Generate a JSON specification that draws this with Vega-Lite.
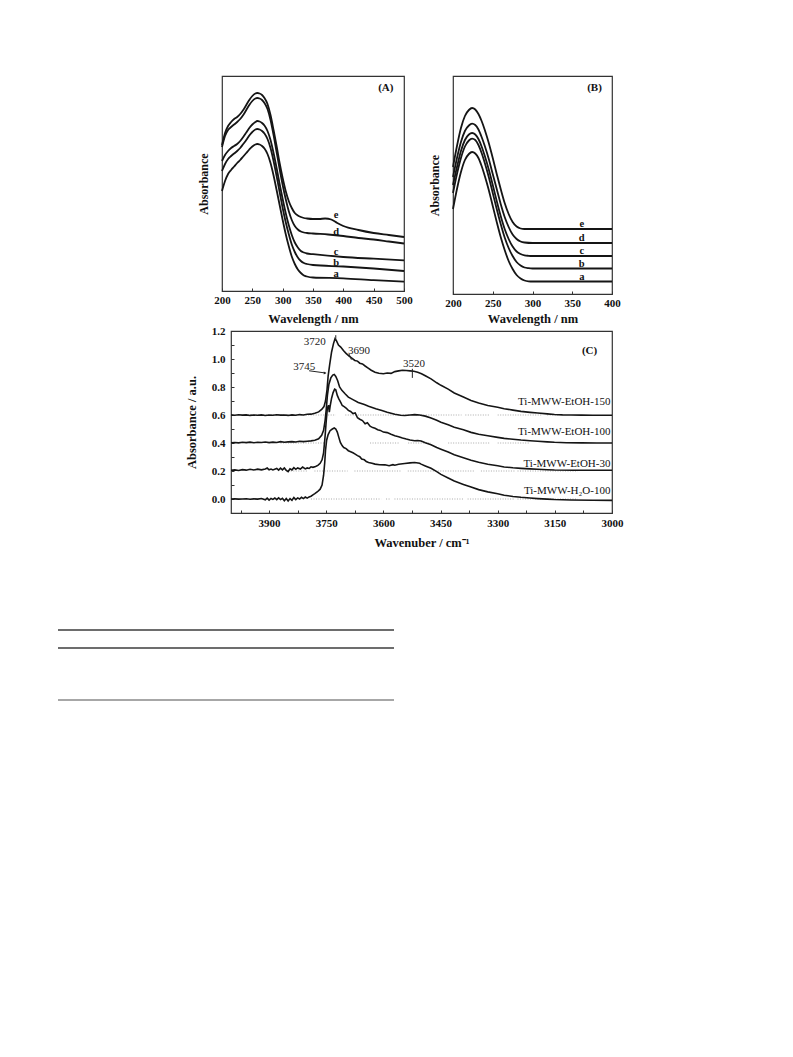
{
"$schema": "https://vega.github.io/schema/vega-lite/v6.json",
"background": "white",
"padding": {"left": 57, "top": 75, "right": 0, "bottom": 0},
"bounds": "full",
"spacing": 79,
"config": {
  "font": "Liberation Serif",
  "view": {"stroke": "#333", "strokeWidth": 1.2},
  "axis": {"labelFont": "Liberation Serif", "titleFont": "Liberation Serif", "labelFontWeight": "bold", "titleFontWeight": "bold", "labelColor": "#111", "titleColor": "#111", "tickColor": "#333", "domain": false, "grid": false, "labelFontSize": 11, "titleFontSize": 12.5, "tickSize": -3, "labelFlush": false, "labelOverlap": false, "tickCount": 100},
  "text": {"font": "Liberation Serif"}
},
"datasets": {
  "A": [
    {"s":"e","x":200,"y":146},{"s":"e","x":205,"y":158},{"s":"e","x":210,"y":165},{"s":"e","x":215,"y":169},{"s":"e","x":220,"y":172},{"s":"e","x":225,"y":174},{"s":"e","x":230,"y":177},{"s":"e","x":235,"y":181},{"s":"e","x":240,"y":186},{"s":"e","x":245,"y":191},{"s":"e","x":250,"y":195},{"s":"e","x":255,"y":197.5},{"s":"e","x":258,"y":198},{"s":"e","x":262,"y":197.5},{"s":"e","x":266,"y":196},{"s":"e","x":270,"y":193},{"s":"e","x":275,"y":187},{"s":"e","x":280,"y":176},{"s":"e","x":285,"y":161},{"s":"e","x":290,"y":145},{"s":"e","x":295,"y":128},{"s":"e","x":300,"y":113},{"s":"e","x":305,"y":100},{"s":"e","x":310,"y":90},{"s":"e","x":315,"y":83},{"s":"e","x":320,"y":78},{"s":"e","x":325,"y":75.5},{"s":"e","x":330,"y":74},{"s":"e","x":335,"y":73},{"s":"e","x":340,"y":72.5},{"s":"e","x":350,"y":72},{"s":"e","x":360,"y":72},{"s":"e","x":370,"y":72.5},{"s":"e","x":380,"y":71.5},{"s":"e","x":390,"y":68},{"s":"e","x":400,"y":65},{"s":"e","x":425,"y":61},{"s":"e","x":450,"y":58},{"s":"e","x":475,"y":56},{"s":"e","x":500,"y":54},
    {"s":"d","x":200,"y":144},{"s":"d","x":205,"y":155},{"s":"d","x":210,"y":161},{"s":"d","x":215,"y":164},{"s":"d","x":220,"y":166.5},{"s":"d","x":225,"y":169},{"s":"d","x":230,"y":172},{"s":"d","x":235,"y":176},{"s":"d","x":240,"y":181},{"s":"d","x":245,"y":186},{"s":"d","x":250,"y":190},{"s":"d","x":255,"y":192.5},{"s":"d","x":258,"y":193},{"s":"d","x":262,"y":192.5},{"s":"d","x":266,"y":191},{"s":"d","x":270,"y":188},{"s":"d","x":275,"y":182},{"s":"d","x":280,"y":171},{"s":"d","x":285,"y":156},{"s":"d","x":290,"y":139},{"s":"d","x":295,"y":122},{"s":"d","x":300,"y":106},{"s":"d","x":305,"y":92},{"s":"d","x":310,"y":80},{"s":"d","x":315,"y":71},{"s":"d","x":320,"y":65},{"s":"d","x":325,"y":61.5},{"s":"d","x":330,"y":59.5},{"s":"d","x":335,"y":58.5},{"s":"d","x":340,"y":58},{"s":"d","x":350,"y":57.5},{"s":"d","x":375,"y":56.5},{"s":"d","x":400,"y":55},{"s":"d","x":425,"y":53},{"s":"d","x":450,"y":51.5},{"s":"d","x":475,"y":49.5},{"s":"d","x":500,"y":47.5},
    {"s":"c","x":200,"y":130},{"s":"c","x":205,"y":136},{"s":"c","x":210,"y":140},{"s":"c","x":215,"y":143},{"s":"c","x":220,"y":145},{"s":"c","x":225,"y":147},{"s":"c","x":230,"y":150},{"s":"c","x":235,"y":154},{"s":"c","x":240,"y":158.5},{"s":"c","x":245,"y":163},{"s":"c","x":250,"y":166.5},{"s":"c","x":255,"y":169},{"s":"c","x":258,"y":170},{"s":"c","x":262,"y":169.5},{"s":"c","x":266,"y":168},{"s":"c","x":270,"y":165.5},{"s":"c","x":275,"y":160},{"s":"c","x":280,"y":151},{"s":"c","x":285,"y":138},{"s":"c","x":290,"y":123},{"s":"c","x":295,"y":107},{"s":"c","x":300,"y":92},{"s":"c","x":305,"y":78},{"s":"c","x":310,"y":66},{"s":"c","x":315,"y":56},{"s":"c","x":320,"y":48.5},{"s":"c","x":325,"y":43.5},{"s":"c","x":330,"y":40},{"s":"c","x":335,"y":38.5},{"s":"c","x":340,"y":37.5},{"s":"c","x":350,"y":36.8},{"s":"c","x":400,"y":34},{"s":"c","x":450,"y":32.3},{"s":"c","x":500,"y":30.7},
    {"s":"b","x":200,"y":120},{"s":"b","x":205,"y":127},{"s":"b","x":210,"y":132},{"s":"b","x":215,"y":135},{"s":"b","x":220,"y":137.5},{"s":"b","x":225,"y":140},{"s":"b","x":230,"y":143},{"s":"b","x":235,"y":147},{"s":"b","x":240,"y":151},{"s":"b","x":245,"y":155.5},{"s":"b","x":250,"y":159},{"s":"b","x":255,"y":161.5},{"s":"b","x":258,"y":162},{"s":"b","x":262,"y":161.5},{"s":"b","x":266,"y":160},{"s":"b","x":270,"y":157.5},{"s":"b","x":275,"y":152},{"s":"b","x":280,"y":143},{"s":"b","x":285,"y":130},{"s":"b","x":290,"y":115},{"s":"b","x":295,"y":99},{"s":"b","x":300,"y":83},{"s":"b","x":305,"y":69},{"s":"b","x":310,"y":57},{"s":"b","x":315,"y":46.5},{"s":"b","x":320,"y":39},{"s":"b","x":325,"y":33.5},{"s":"b","x":330,"y":30},{"s":"b","x":335,"y":28},{"s":"b","x":340,"y":27},{"s":"b","x":350,"y":26},{"s":"b","x":400,"y":24.5},{"s":"b","x":450,"y":22.5},{"s":"b","x":500,"y":20},
    {"s":"a","x":200,"y":100},{"s":"a","x":205,"y":110},{"s":"a","x":210,"y":117},{"s":"a","x":215,"y":121},{"s":"a","x":220,"y":124.5},{"s":"a","x":225,"y":128},{"s":"a","x":230,"y":131},{"s":"a","x":235,"y":134.5},{"s":"a","x":240,"y":138},{"s":"a","x":245,"y":141.5},{"s":"a","x":250,"y":144.5},{"s":"a","x":255,"y":146.5},{"s":"a","x":258,"y":147},{"s":"a","x":262,"y":146.5},{"s":"a","x":266,"y":145},{"s":"a","x":270,"y":142.5},{"s":"a","x":275,"y":137},{"s":"a","x":280,"y":128},{"s":"a","x":285,"y":115.5},{"s":"a","x":290,"y":101},{"s":"a","x":295,"y":86},{"s":"a","x":300,"y":71},{"s":"a","x":305,"y":57},{"s":"a","x":310,"y":45},{"s":"a","x":315,"y":34.5},{"s":"a","x":320,"y":27},{"s":"a","x":325,"y":21.5},{"s":"a","x":330,"y":18},{"s":"a","x":335,"y":15.5},{"s":"a","x":340,"y":14.5},{"s":"a","x":350,"y":13.5},{"s":"a","x":400,"y":12.7},{"s":"a","x":450,"y":10.8},{"s":"a","x":500,"y":9.3}
  ],
  "Alab": [
    {"t":"e","x":388,"y":76},{"t":"d","x":388,"y":59.5},{"t":"c","x":388,"y":39.5},{"t":"b","x":388,"y":28},{"t":"a","x":388,"y":17}
  ],
  "B": [
    {"s":"e","x":200,"y":127},{"s":"e","x":205,"y":148},{"s":"e","x":210,"y":166},{"s":"e","x":215,"y":178},{"s":"e","x":220,"y":184},{"s":"e","x":224,"y":186},{"s":"e","x":228,"y":184.5},{"s":"e","x":232,"y":180},{"s":"e","x":236,"y":173},{"s":"e","x":240,"y":164},{"s":"e","x":245,"y":151},{"s":"e","x":250,"y":136},{"s":"e","x":255,"y":120},{"s":"e","x":260,"y":105},{"s":"e","x":265,"y":91},{"s":"e","x":270,"y":80},{"s":"e","x":275,"y":72},{"s":"e","x":280,"y":67.5},{"s":"e","x":285,"y":65.5},{"s":"e","x":290,"y":65},{"s":"e","x":300,"y":65},{"s":"e","x":350,"y":65},{"s":"e","x":400,"y":65},
    {"s":"d","x":200,"y":117},{"s":"d","x":205,"y":136},{"s":"d","x":210,"y":152},{"s":"d","x":215,"y":163},{"s":"d","x":220,"y":168.5},{"s":"d","x":224,"y":170.3},{"s":"d","x":228,"y":169},{"s":"d","x":232,"y":164.5},{"s":"d","x":236,"y":157},{"s":"d","x":240,"y":148},{"s":"d","x":245,"y":135},{"s":"d","x":250,"y":120},{"s":"d","x":255,"y":105},{"s":"d","x":260,"y":90},{"s":"d","x":265,"y":77},{"s":"d","x":270,"y":67},{"s":"d","x":275,"y":59.5},{"s":"d","x":280,"y":55},{"s":"d","x":285,"y":52.5},{"s":"d","x":290,"y":51.5},{"s":"d","x":300,"y":51},{"s":"d","x":350,"y":51},{"s":"d","x":400,"y":51},
    {"s":"c","x":200,"y":109},{"s":"c","x":205,"y":127},{"s":"c","x":210,"y":143},{"s":"c","x":215,"y":154},{"s":"c","x":220,"y":159.5},{"s":"c","x":224,"y":161},{"s":"c","x":228,"y":159.5},{"s":"c","x":232,"y":155},{"s":"c","x":236,"y":147.5},{"s":"c","x":240,"y":138},{"s":"c","x":245,"y":124.5},{"s":"c","x":250,"y":109},{"s":"c","x":255,"y":93},{"s":"c","x":260,"y":78},{"s":"c","x":265,"y":65},{"s":"c","x":270,"y":55},{"s":"c","x":275,"y":47.5},{"s":"c","x":280,"y":42.5},{"s":"c","x":285,"y":40},{"s":"c","x":290,"y":38.7},{"s":"c","x":295,"y":38.2},{"s":"c","x":300,"y":38},{"s":"c","x":350,"y":38},{"s":"c","x":400,"y":38},
    {"s":"b","x":200,"y":101},{"s":"b","x":205,"y":120},{"s":"b","x":210,"y":136},{"s":"b","x":215,"y":147.5},{"s":"b","x":220,"y":153.5},{"s":"b","x":224,"y":155.3},{"s":"b","x":228,"y":154},{"s":"b","x":232,"y":149},{"s":"b","x":236,"y":141},{"s":"b","x":240,"y":131},{"s":"b","x":245,"y":117},{"s":"b","x":250,"y":101},{"s":"b","x":255,"y":85},{"s":"b","x":260,"y":70},{"s":"b","x":265,"y":56.5},{"s":"b","x":270,"y":46},{"s":"b","x":275,"y":38},{"s":"b","x":280,"y":32},{"s":"b","x":285,"y":28.5},{"s":"b","x":290,"y":26.5},{"s":"b","x":295,"y":25.8},{"s":"b","x":300,"y":25.5},{"s":"b","x":350,"y":25.5},{"s":"b","x":400,"y":25.5},
    {"s":"a","x":200,"y":85},{"s":"a","x":205,"y":105},{"s":"a","x":210,"y":122},{"s":"a","x":215,"y":134},{"s":"a","x":220,"y":140},{"s":"a","x":224,"y":142},{"s":"a","x":228,"y":140.5},{"s":"a","x":232,"y":136},{"s":"a","x":236,"y":128},{"s":"a","x":240,"y":118},{"s":"a","x":245,"y":104},{"s":"a","x":250,"y":88},{"s":"a","x":255,"y":72},{"s":"a","x":260,"y":57},{"s":"a","x":265,"y":44},{"s":"a","x":270,"y":33},{"s":"a","x":275,"y":25},{"s":"a","x":280,"y":19},{"s":"a","x":285,"y":15.5},{"s":"a","x":290,"y":13.5},{"s":"a","x":295,"y":12.7},{"s":"a","x":300,"y":12.5},{"s":"a","x":350,"y":12.5},{"s":"a","x":400,"y":12.5}
  ],
  "Blab": [
    {"t":"e","x":362,"y":70},{"t":"d","x":362,"y":56},{"t":"c","x":362,"y":43},{"t":"b","x":362,"y":30.5},{"t":"a","x":362,"y":17.5}
  ],
  "C": [
    {"s":"150","x":4000,"y":0.601},{"s":"150","x":3990,"y":0.598},{"s":"150","x":3980,"y":0.602},{"s":"150","x":3970,"y":0.599},{"s":"150","x":3960,"y":0.601},{"s":"150","x":3950,"y":0.597},{"s":"150","x":3940,"y":0.6},{"s":"150","x":3930,"y":0.598},{"s":"150","x":3920,"y":0.601},{"s":"150","x":3910,"y":0.596},{"s":"150","x":3900,"y":0.6},{"s":"150","x":3890,"y":0.598},{"s":"150","x":3880,"y":0.602},{"s":"150","x":3870,"y":0.599},{"s":"150","x":3860,"y":0.6},{"s":"150","x":3850,"y":0.597},{"s":"150","x":3840,"y":0.601},{"s":"150","x":3830,"y":0.598},{"s":"150","x":3820,"y":0.603},{"s":"150","x":3810,"y":0.6},{"s":"150","x":3800,"y":0.605},{"s":"150","x":3790,"y":0.606},{"s":"150","x":3780,"y":0.612},{"s":"150","x":3770,"y":0.622},{"s":"150","x":3762,"y":0.64},{"s":"150","x":3756,"y":0.66},{"s":"150","x":3752,"y":0.7},{"s":"150","x":3748,"y":0.78},{"s":"150","x":3745,"y":0.88},{"s":"150","x":3741,"y":0.96},{"s":"150","x":3736,"y":1.05},{"s":"150","x":3731,"y":1.11},{"s":"150","x":3727,"y":1.145},{"s":"150","x":3723,"y":1.13},{"s":"150","x":3718,"y":1.1},{"s":"150","x":3712,"y":1.085},{"s":"150","x":3705,"y":1.06},{"s":"150","x":3698,"y":1.04},{"s":"150","x":3690,"y":1.02},{"s":"150","x":3682,"y":1.005},{"s":"150","x":3675,"y":0.99},{"s":"150","x":3668,"y":0.985},{"s":"150","x":3662,"y":0.97},{"s":"150","x":3655,"y":0.965},{"s":"150","x":3648,"y":0.95},{"s":"150","x":3640,"y":0.935},{"s":"150","x":3632,"y":0.92},{"s":"150","x":3622,"y":0.905},{"s":"150","x":3612,"y":0.898},{"s":"150","x":3600,"y":0.895},{"s":"150","x":3590,"y":0.9},{"s":"150","x":3580,"y":0.897},{"s":"150","x":3570,"y":0.91},{"s":"150","x":3560,"y":0.915},{"s":"150","x":3550,"y":0.92},{"s":"150","x":3540,"y":0.918},{"s":"150","x":3530,"y":0.915},{"s":"150","x":3520,"y":0.912},{"s":"150","x":3510,"y":0.905},{"s":"150","x":3500,"y":0.895},{"s":"150","x":3490,"y":0.88},{"s":"150","x":3475,"y":0.858},{"s":"150","x":3460,"y":0.83},{"s":"150","x":3449,"y":0.812},{"s":"150","x":3430,"y":0.785},{"s":"150","x":3414,"y":0.757},{"s":"150","x":3390,"y":0.728},{"s":"150","x":3370,"y":0.704},{"s":"150","x":3350,"y":0.685},{"s":"150","x":3326,"y":0.668},{"s":"150","x":3300,"y":0.655},{"s":"150","x":3283,"y":0.645},{"s":"150","x":3260,"y":0.635},{"s":"150","x":3239,"y":0.626},{"s":"150","x":3215,"y":0.619},{"s":"150","x":3195,"y":0.614},{"s":"150","x":3170,"y":0.608},{"s":"150","x":3151,"y":0.604},{"s":"150","x":3130,"y":0.601},{"s":"150","x":3108,"y":0.6},{"s":"150","x":3080,"y":0.599},{"s":"150","x":3050,"y":0.598},{"s":"150","x":3000,"y":0.598},
    {"s":"100","x":4000,"y":0.402},{"s":"100","x":3990,"y":0.404},{"s":"100","x":3980,"y":0.401},{"s":"100","x":3970,"y":0.405},{"s":"100","x":3960,"y":0.403},{"s":"100","x":3950,"y":0.406},{"s":"100","x":3940,"y":0.402},{"s":"100","x":3930,"y":0.405},{"s":"100","x":3920,"y":0.404},{"s":"100","x":3910,"y":0.407},{"s":"100","x":3900,"y":0.403},{"s":"100","x":3890,"y":0.406},{"s":"100","x":3880,"y":0.404},{"s":"100","x":3870,"y":0.41},{"s":"100","x":3860,"y":0.405},{"s":"100","x":3850,"y":0.408},{"s":"100","x":3840,"y":0.41},{"s":"100","x":3830,"y":0.407},{"s":"100","x":3820,"y":0.412},{"s":"100","x":3810,"y":0.41},{"s":"100","x":3800,"y":0.413},{"s":"100","x":3790,"y":0.415},{"s":"100","x":3780,"y":0.42},{"s":"100","x":3770,"y":0.43},{"s":"100","x":3762,"y":0.455},{"s":"100","x":3757,"y":0.49},{"s":"100","x":3753,"y":0.56},{"s":"100","x":3750,"y":0.64},{"s":"100","x":3747,"y":0.74},{"s":"100","x":3743,"y":0.82},{"s":"100","x":3738,"y":0.865},{"s":"100","x":3733,"y":0.885},{"s":"100","x":3729,"y":0.89},{"s":"100","x":3725,"y":0.875},{"s":"100","x":3720,"y":0.845},{"s":"100","x":3715,"y":0.8},{"s":"100","x":3709,"y":0.776},{"s":"100","x":3700,"y":0.75},{"s":"100","x":3692,"y":0.728},{"s":"100","x":3680,"y":0.71},{"s":"100","x":3666,"y":0.69},{"s":"100","x":3650,"y":0.675},{"s":"100","x":3639,"y":0.663},{"s":"100","x":3620,"y":0.645},{"s":"100","x":3604,"y":0.632},{"s":"100","x":3590,"y":0.62},{"s":"100","x":3570,"y":0.605},{"s":"100","x":3555,"y":0.598},{"s":"100","x":3544,"y":0.596},{"s":"100","x":3530,"y":0.6},{"s":"100","x":3518,"y":0.603},{"s":"100","x":3505,"y":0.6},{"s":"100","x":3490,"y":0.592},{"s":"100","x":3475,"y":0.579},{"s":"100","x":3460,"y":0.562},{"s":"100","x":3449,"y":0.548},{"s":"100","x":3430,"y":0.53},{"s":"100","x":3414,"y":0.513},{"s":"100","x":3390,"y":0.494},{"s":"100","x":3370,"y":0.476},{"s":"100","x":3350,"y":0.462},{"s":"100","x":3326,"y":0.452},{"s":"100","x":3300,"y":0.44},{"s":"100","x":3283,"y":0.433},{"s":"100","x":3260,"y":0.427},{"s":"100","x":3239,"y":0.421},{"s":"100","x":3215,"y":0.416},{"s":"100","x":3195,"y":0.412},{"s":"100","x":3170,"y":0.408},{"s":"100","x":3151,"y":0.405},{"s":"100","x":3120,"y":0.402},{"s":"100","x":3080,"y":0.401},{"s":"100","x":3040,"y":0.4},{"s":"100","x":3000,"y":0.4},
    {"s":"30","x":4000,"y":0.205},{"s":"30","x":3990,"y":0.208},{"s":"30","x":3980,"y":0.204},{"s":"30","x":3970,"y":0.21},{"s":"30","x":3960,"y":0.206},{"s":"30","x":3950,"y":0.212},{"s":"30","x":3940,"y":0.207},{"s":"30","x":3930,"y":0.213},{"s":"30","x":3920,"y":0.208},{"s":"30","x":3910,"y":0.215},{"s":"30","x":3905,"y":0.221},{"s":"30","x":3900,"y":0.209},{"s":"30","x":3895,"y":0.214},{"s":"30","x":3890,"y":0.208},{"s":"30","x":3880,"y":0.218},{"s":"30","x":3875,"y":0.206},{"s":"30","x":3870,"y":0.22},{"s":"30","x":3865,"y":0.208},{"s":"30","x":3860,"y":0.222},{"s":"30","x":3855,"y":0.205},{"s":"30","x":3850,"y":0.196},{"s":"30","x":3845,"y":0.215},{"s":"30","x":3840,"y":0.208},{"s":"30","x":3835,"y":0.224},{"s":"30","x":3830,"y":0.212},{"s":"30","x":3825,"y":0.222},{"s":"30","x":3818,"y":0.214},{"s":"30","x":3812,"y":0.228},{"s":"30","x":3805,"y":0.215},{"s":"30","x":3800,"y":0.222},{"s":"30","x":3795,"y":0.218},{"s":"30","x":3790,"y":0.23},{"s":"30","x":3785,"y":0.226},{"s":"30","x":3778,"y":0.232},{"s":"30","x":3772,"y":0.24},{"s":"30","x":3766,"y":0.255},{"s":"30","x":3761,"y":0.28},{"s":"30","x":3757,"y":0.33},{"s":"30","x":3753,"y":0.45},{"s":"30","x":3750,"y":0.56},{"s":"30","x":3747,"y":0.65},{"s":"30","x":3744,"y":0.67},{"s":"30","x":3742,"y":0.62},{"s":"30","x":3740,"y":0.66},{"s":"30","x":3736,"y":0.72},{"s":"30","x":3732,"y":0.76},{"s":"30","x":3728,"y":0.785},{"s":"30","x":3725,"y":0.78},{"s":"30","x":3721,"y":0.74},{"s":"30","x":3717,"y":0.715},{"s":"30","x":3712,"y":0.69},{"s":"30","x":3708,"y":0.668},{"s":"30","x":3703,"y":0.66},{"s":"30","x":3698,"y":0.65},{"s":"30","x":3692,"y":0.633},{"s":"30","x":3686,"y":0.625},{"s":"30","x":3680,"y":0.61},{"s":"30","x":3674,"y":0.615},{"s":"30","x":3668,"y":0.58},{"s":"30","x":3662,"y":0.57},{"s":"30","x":3655,"y":0.56},{"s":"30","x":3648,"y":0.538},{"s":"30","x":3642,"y":0.545},{"s":"30","x":3635,"y":0.52},{"s":"30","x":3628,"y":0.51},{"s":"30","x":3622,"y":0.505},{"s":"30","x":3615,"y":0.495},{"s":"30","x":3608,"y":0.49},{"s":"30","x":3600,"y":0.478},{"s":"30","x":3590,"y":0.474},{"s":"30","x":3580,"y":0.462},{"s":"30","x":3570,"y":0.452},{"s":"30","x":3560,"y":0.445},{"s":"30","x":3550,"y":0.436},{"s":"30","x":3540,"y":0.428},{"s":"30","x":3530,"y":0.422},{"s":"30","x":3518,"y":0.416},{"s":"30","x":3510,"y":0.418},{"s":"30","x":3501,"y":0.414},{"s":"30","x":3490,"y":0.402},{"s":"30","x":3475,"y":0.388},{"s":"30","x":3460,"y":0.368},{"s":"30","x":3449,"y":0.356},{"s":"30","x":3430,"y":0.335},{"s":"30","x":3414,"y":0.316},{"s":"30","x":3390,"y":0.295},{"s":"30","x":3370,"y":0.277},{"s":"30","x":3350,"y":0.262},{"s":"30","x":3326,"y":0.248},{"s":"30","x":3300,"y":0.237},{"s":"30","x":3283,"y":0.229},{"s":"30","x":3260,"y":0.223},{"s":"30","x":3239,"y":0.219},{"s":"30","x":3215,"y":0.215},{"s":"30","x":3195,"y":0.212},{"s":"30","x":3170,"y":0.209},{"s":"30","x":3151,"y":0.207},{"s":"30","x":3100,"y":0.205},{"s":"30","x":3050,"y":0.205},{"s":"30","x":3000,"y":0.205},
    {"s":"h2o","x":4000,"y":0.0},{"s":"h2o","x":3990,"y":0.001},{"s":"h2o","x":3980,"y":-0.001},{"s":"h2o","x":3970,"y":0.0},{"s":"h2o","x":3960,"y":0.002},{"s":"h2o","x":3950,"y":-0.002},{"s":"h2o","x":3940,"y":0.001},{"s":"h2o","x":3930,"y":-0.001},{"s":"h2o","x":3920,"y":0.003},{"s":"h2o","x":3910,"y":-0.006},{"s":"h2o","x":3905,"y":0.006},{"s":"h2o","x":3900,"y":-0.008},{"s":"h2o","x":3895,"y":0.004},{"s":"h2o","x":3890,"y":-0.003},{"s":"h2o","x":3885,"y":0.007},{"s":"h2o","x":3880,"y":-0.005},{"s":"h2o","x":3875,"y":0.008},{"s":"h2o","x":3870,"y":-0.004},{"s":"h2o","x":3865,"y":0.005},{"s":"h2o","x":3860,"y":-0.012},{"s":"h2o","x":3855,"y":0.004},{"s":"h2o","x":3850,"y":-0.014},{"s":"h2o","x":3845,"y":0.003},{"s":"h2o","x":3840,"y":-0.009},{"s":"h2o","x":3835,"y":0.01},{"s":"h2o","x":3830,"y":-0.004},{"s":"h2o","x":3825,"y":0.008},{"s":"h2o","x":3820,"y":0.0},{"s":"h2o","x":3815,"y":0.012},{"s":"h2o","x":3810,"y":0.003},{"s":"h2o","x":3805,"y":0.014},{"s":"h2o","x":3800,"y":0.006},{"s":"h2o","x":3795,"y":0.015},{"s":"h2o","x":3790,"y":0.02},{"s":"h2o","x":3785,"y":0.03},{"s":"h2o","x":3780,"y":0.038},{"s":"h2o","x":3773,"y":0.052},{"s":"h2o","x":3766,"y":0.07},{"s":"h2o","x":3761,"y":0.1},{"s":"h2o","x":3757,"y":0.17},{"s":"h2o","x":3754,"y":0.26},{"s":"h2o","x":3752,"y":0.345},{"s":"h2o","x":3749,"y":0.42},{"s":"h2o","x":3745,"y":0.46},{"s":"h2o","x":3740,"y":0.488},{"s":"h2o","x":3734,"y":0.5},{"s":"h2o","x":3729,"y":0.507},{"s":"h2o","x":3725,"y":0.5},{"s":"h2o","x":3721,"y":0.478},{"s":"h2o","x":3717,"y":0.44},{"s":"h2o","x":3713,"y":0.404},{"s":"h2o","x":3708,"y":0.38},{"s":"h2o","x":3704,"y":0.368},{"s":"h2o","x":3698,"y":0.36},{"s":"h2o","x":3692,"y":0.345},{"s":"h2o","x":3686,"y":0.338},{"s":"h2o","x":3680,"y":0.33},{"s":"h2o","x":3674,"y":0.321},{"s":"h2o","x":3668,"y":0.31},{"s":"h2o","x":3662,"y":0.302},{"s":"h2o","x":3657,"y":0.285},{"s":"h2o","x":3650,"y":0.28},{"s":"h2o","x":3645,"y":0.268},{"s":"h2o","x":3639,"y":0.261},{"s":"h2o","x":3630,"y":0.255},{"s":"h2o","x":3622,"y":0.249},{"s":"h2o","x":3610,"y":0.245},{"s":"h2o","x":3596,"y":0.244},{"s":"h2o","x":3585,"y":0.238},{"s":"h2o","x":3575,"y":0.245},{"s":"h2o","x":3570,"y":0.241},{"s":"h2o","x":3560,"y":0.248},{"s":"h2o","x":3544,"y":0.253},{"s":"h2o","x":3530,"y":0.258},{"s":"h2o","x":3518,"y":0.261},{"s":"h2o","x":3505,"y":0.255},{"s":"h2o","x":3501,"y":0.249},{"s":"h2o","x":3490,"y":0.236},{"s":"h2o","x":3475,"y":0.219},{"s":"h2o","x":3460,"y":0.196},{"s":"h2o","x":3449,"y":0.176},{"s":"h2o","x":3430,"y":0.15},{"s":"h2o","x":3414,"y":0.128},{"s":"h2o","x":3390,"y":0.104},{"s":"h2o","x":3370,"y":0.085},{"s":"h2o","x":3350,"y":0.067},{"s":"h2o","x":3326,"y":0.051},{"s":"h2o","x":3300,"y":0.037},{"s":"h2o","x":3283,"y":0.027},{"s":"h2o","x":3260,"y":0.018},{"s":"h2o","x":3239,"y":0.012},{"s":"h2o","x":3215,"y":0.007},{"s":"h2o","x":3195,"y":0.003},{"s":"h2o","x":3170,"y":-0.001},{"s":"h2o","x":3151,"y":-0.004},{"s":"h2o","x":3108,"y":-0.007},{"s":"h2o","x":3050,"y":-0.009},{"s":"h2o","x":3000,"y":-0.01}
  ],
  "Cdots": [
    {"y":0.6,"x":3955,"x2":3725},{"y":0.6,"x":3700,"x2":3530},{"y":0.6,"x":3515,"x2":3395},{"y":0.6,"x":3385,"x2":3320},{"y":0.6,"x":3300,"x2":3185},{"y":0.6,"x":3170,"x2":3140},
    {"y":0.4,"x":3870,"x2":3755},{"y":0.4,"x":3635,"x2":3560},{"y":0.4,"x":3535,"x2":3475},{"y":0.4,"x":3430,"x2":3320},{"y":0.4,"x":3300,"x2":3215},
    {"y":0.2,"x":3843,"x2":3799},{"y":0.2,"x":3781,"x2":3694},{"y":0.2,"x":3676,"x2":3554},{"y":0.2,"x":3536,"x2":3361},{"y":0.2,"x":3344,"x2":3256},{"y":0.2,"x":3248,"x2":3090},
    {"y":0.0,"x":3790,"x2":3606},{"y":0.0,"x":3593,"x2":3580},{"y":0.0,"x":3571,"x2":3388},{"y":0.0,"x":3379,"x2":3256},{"y":0.0,"x":3248,"x2":3090}
  ],
  "Cann": [
    {"t":"3720","x":3780,"y":1.121},{"t":"3690","x":3664,"y":1.055},{"t":"3745","x":3808,"y":0.94},{"t":"3520","x":3520,"y":0.966}
  ],
  "Clines": [
    {"x":3725,"y":1.13,"x2":3725,"y2":1.17},{"x":3690,"y":1.035,"x2":3684,"y2":0.995},{"x":3795,"y":0.916,"x2":3752,"y2":0.9},{"x":3524,"y":0.93,"x2":3524,"y2":0.865}
  ],
  "Csamp": [
    {"t":"Ti-MWW-EtOH-150","x":3004,"y":0.693},{"t":"Ti-MWW-EtOH-100","x":3004,"y":0.479},{"t":"Ti-MWW-EtOH-30","x":3004,"y":0.25},{"t":"Ti-MWW-H₂O-100","x":3004,"y":0.055}
  ],
  "T": [
    {"rule":"top","pos":70},{"rule":"header","pos":52},{"rule":"bottom","pos":0}
  ]
},
"vconcat": [
  {
    "bounds": "full",
    "spacing": -2,
    "vconcat": [
      {
        "bounds": "flush",
        "spacing": 49,
        "hconcat": [
          {"width": 115, "height": 10, "view": {"stroke": null}, "data": {"values": []}, "mark": "point"},
          {
            "width": 182, "height": 215,
            "layer": [
              {
                "data": {"name": "A"},
                "mark": {"type": "line", "color": "#151515", "strokeWidth": 1.8, "interpolate": "monotone"},
                "encoding": {
                  "x": {"field": "x", "type": "quantitative", "scale": {"domain": [200, 500], "nice": false}, "axis": {"values": [200, 250, 300, 350, 400, 450, 500], "tickCount": 100, "title": "Wavelength / nm", "labelPadding": 6, "titlePadding": 7, "labelOverlap": false}},
                  "y": {"field": "y", "type": "quantitative", "scale": {"domain": [0, 215], "nice": false}, "axis": {"labels": false, "ticks": false, "title": "Absorbance", "titleFontSize": 12, "titlePadding": 12}},
                  "detail": {"field": "s"}
                }
              },
              {
                "data": {"name": "Alab"},
                "mark": {"type": "text", "fontWeight": "bold", "fontSize": 10.5, "color": "#111", "baseline": "middle"},
                "encoding": {"x": {"field": "x", "type": "quantitative"}, "y": {"field": "y", "type": "quantitative"}, "text": {"field": "t"}}
              },
              {
                "data": {"values": [{"t": "(A)", "x": 470, "y": 203}]},
                "mark": {"type": "text", "fontWeight": "bold", "fontSize": 11, "color": "#111", "baseline": "middle"},
                "encoding": {"x": {"field": "x", "type": "quantitative"}, "y": {"field": "y", "type": "quantitative"}, "text": {"field": "t"}}
              }
            ]
          },
          {
            "width": 159, "height": 218,
            "layer": [
              {
                "data": {"name": "B"},
                "mark": {"type": "line", "color": "#151515", "strokeWidth": 1.8, "interpolate": "monotone"},
                "encoding": {
                  "x": {"field": "x", "type": "quantitative", "scale": {"domain": [200, 400], "nice": false}, "axis": {"values": [200, 250, 300, 350, 400], "tickCount": 100, "title": "Wavelength / nm", "labelPadding": 6, "titlePadding": 4, "labelOverlap": false}},
                  "y": {"field": "y", "type": "quantitative", "scale": {"domain": [0, 218], "nice": false}, "axis": {"labels": false, "ticks": false, "title": "Absorbance", "titleFontSize": 12, "titlePadding": 12}},
                  "detail": {"field": "s"}
                }
              },
              {
                "data": {"name": "Blab"},
                "mark": {"type": "text", "fontWeight": "bold", "fontSize": 10.5, "color": "#111", "baseline": "middle"},
                "encoding": {"x": {"field": "x", "type": "quantitative"}, "y": {"field": "y", "type": "quantitative"}, "text": {"field": "t"}}
              },
              {
                "data": {"values": [{"t": "(B)", "x": 378, "y": 206}]},
                "mark": {"type": "text", "fontWeight": "bold", "fontSize": 11, "color": "#111", "baseline": "middle"},
                "encoding": {"x": {"field": "x", "type": "quantitative"}, "y": {"field": "y", "type": "quantitative"}, "text": {"field": "t"}}
              }
            ]
          }
        ]
      },
      {
        "bounds": "flush",
        "spacing": 49,
        "hconcat": [
          {"width": 124, "height": 10, "view": {"stroke": null}, "data": {"values": []}, "mark": "point"},
          {
            "width": 381, "height": 182,
            "layer": [
              {
                "data": {"name": "Cdots"},
                "mark": {"type": "rule", "color": "#aaaaaa", "strokeWidth": 1, "strokeDash": [1, 1.5]},
                "encoding": {
                  "x": {"field": "x", "type": "quantitative", "scale": {"domain": [3000, 4000], "reverse": true, "nice": false}, "axis": {"values": [3975, 3900, 3825, 3750, 3675, 3600, 3525, 3450, 3375, 3300, 3225, 3150, 3075, 3000], "tickCount": 100, "labelExpr": "datum.value % 150 === 0 ? datum.label : ''", "format": "d", "title": "Wavenuber / cm⁻¹", "labelPadding": 7, "titlePadding": 8, "labelOverlap": false}},
                  "x2": {"field": "x2"},
                  "y": {"field": "y", "type": "quantitative", "scale": {"domain": [-0.1, 1.2], "nice": false}, "axis": {"values": [0, 0.1, 0.2, 0.3, 0.4, 0.5, 0.6, 0.7, 0.8, 0.9, 1.0, 1.1, 1.2], "tickCount": 100, "labelExpr": "round(datum.value * 10) % 2 === 0 ? format(datum.value, '.1f') : ''", "title": "Absorbance / a.u.", "labelPadding": 9, "titlePadding": 13, "labelOverlap": false}}
                }
              },
              {
                "data": {"name": "C"},
                "mark": {"type": "line", "color": "#151515", "strokeWidth": 1.6},
                "encoding": {
                  "x": {"field": "x", "type": "quantitative"},
                  "y": {"field": "y", "type": "quantitative"},
                  "detail": {"field": "s"}
                }
              },
              {
                "data": {"name": "Clines"},
                "mark": {"type": "rule", "color": "#222", "strokeWidth": 1},
                "encoding": {"x": {"field": "x", "type": "quantitative"}, "y": {"field": "y", "type": "quantitative"}, "x2": {"field": "x2"}, "y2": {"field": "y2"}}
              },
              {
                "data": {"values": [{"x": 3753, "y": 0.9}]},
                "mark": {"type": "point", "shape": "triangle-right", "filled": true, "size": 10, "color": "#222", "opacity": 1},
                "encoding": {"x": {"field": "x", "type": "quantitative"}, "y": {"field": "y", "type": "quantitative"}}
              },
              {
                "data": {"name": "Cann"},
                "mark": {"type": "text", "fontSize": 11, "color": "#222", "baseline": "middle"},
                "encoding": {"x": {"field": "x", "type": "quantitative"}, "y": {"field": "y", "type": "quantitative"}, "text": {"field": "t"}}
              },
              {
                "data": {"name": "Csamp"},
                "mark": {"type": "text", "fontSize": 11, "color": "#111", "align": "right", "baseline": "middle"},
                "encoding": {"x": {"field": "x", "type": "quantitative"}, "y": {"field": "y", "type": "quantitative"}, "text": {"field": "t"}}
              },
              {
                "data": {"values": [{"t": "(C)", "x": 3059, "y": 1.055}]},
                "mark": {"type": "text", "fontWeight": "bold", "fontSize": 11, "color": "#111", "baseline": "middle"},
                "encoding": {"x": {"field": "x", "type": "quantitative"}, "y": {"field": "y", "type": "quantitative"}, "text": {"field": "t"}}
              }
            ]
          }
        ]
      }
    ]
  },
  {
    "width": 336, "height": 70,
    "view": {"stroke": null},
    "data": {"name": "T"},
    "mark": {"type": "rule"},
    "encoding": {
      "y": {"field": "pos", "type": "quantitative", "scale": {"domain": [0, 70], "nice": false}, "axis": null},
      "color": {"field": "rule", "type": "nominal", "scale": {"domain": ["top", "header", "bottom"], "range": ["#3c3c3c", "#3c3c3c", "#8a8a8a"]}, "legend": null},
      "strokeWidth": {"field": "rule", "type": "nominal", "scale": {"domain": ["top", "header", "bottom"], "range": [1.3, 1.3, 1.9]}, "legend": null}
    }
  }
]
}
